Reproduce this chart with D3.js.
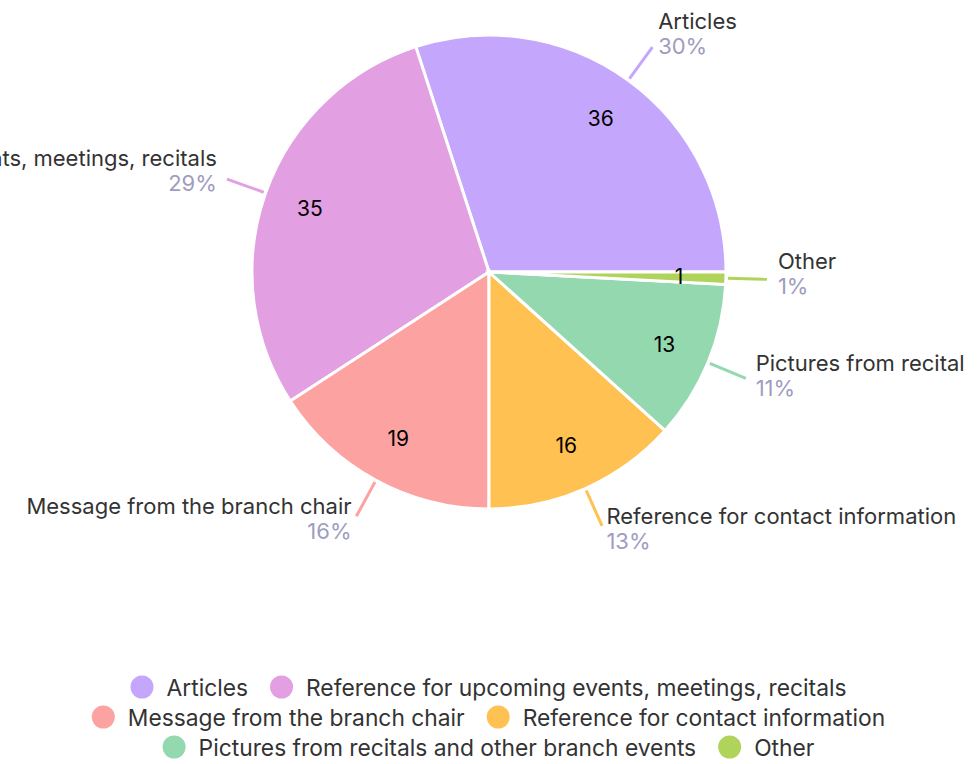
<!DOCTYPE html>
<html>
<head>
<meta charset="utf-8">
<script src="https://cdn.jsdelivr.net/npm/d3@7"></script>
<style>
  body { margin: 0; background: #fff; }
  svg { font-family: "Inter", "Open Sans", sans-serif; }
</style>
</head>
<body>
<svg id="chart" width="977" height="764"></svg>
<script>
// chart data
const categories = [
    "Articles",
    "Reference for upcoming events, meetings, recitals",
    "Message from the branch chair",
    "Reference for contact information",
    "Pictures from recitals and other branch events",
    "Other"
];
// slice labels as the chart shows them (long ones get cut)
const shortLabels = [
    "Articles",
    "Reference for upcoming events, meetings, recitals",
    "Message from the branch chair",
    "Reference for contact information",
    "Pictures from recital",
    "Other"
];
const values = [36, 35, 19, 16, 13, 1];
const colors = ["#c5a6fd", "#e29fe1", "#fca3a2", "#fec152", "#93d8ae", "#b0d35b"];
const legendRows = [[0, 1], [2, 3], [4, 5]];

const data = categories.map((c, i) => ({ name: c, label: shortLabels[i], value: values[i], color: colors[i] }));
const total = d3.sum(values);

const svg = d3.select("#chart");
const cx = 489, cy = 272, radius = 237;
const fontSize = "22px";

const g = svg.append("g")
    .attr("transform", `translate(${cx}, ${cy})`);

// counter-clockwise, starting at 3 o'clock
const pie = d3.pie()
    .value(d => d.value)
    .sort(null)
    .startAngle(Math.PI / 2)
    .endAngle(Math.PI / 2 - 2 * Math.PI);

const arc = d3.arc().innerRadius(0).outerRadius(radius);
const arcs = pie(data);

g.selectAll("path.slice")
    .data(arcs)
    .enter()
    .append("path")
    .attr("class", "slice")
    .attr("d", arc)
    .attr("fill", d => d.data.color)
    .style("stroke", "#fff")
    .style("stroke-width", "3px");

// value labels inside slices
const inner = d3.arc().innerRadius(190).outerRadius(190);
g.selectAll("text.value")
    .data(arcs)
    .enter()
    .append("text")
    .attr("class", "value")
    .attr("transform", d => `translate(${inner.centroid(d)})`)
    .attr("text-anchor", "middle")
    .attr("dominant-baseline", "central")
    .style("font-size", "21px")
    .style("fill", "#000")
    .text(d => d.data.value);

// outer labels with ticks
const mid = d => (d.startAngle + d.endAngle) / 2;
const pt = (a, r) => [Math.sin(a) * r, -Math.cos(a) * r];

const labels = g.selectAll("g.label")
    .data(arcs)
    .enter()
    .append("g")
    .attr("class", "label");

labels.append("line")
    .attr("x1", d => pt(mid(d), radius + 2)[0])
    .attr("y1", d => pt(mid(d), radius + 2)[1])
    .attr("x2", d => pt(mid(d), radius + 41)[0])
    .attr("y2", d => pt(mid(d), radius + 41)[1])
    .attr("stroke", d => d.data.color)
    .attr("stroke-width", 3);

labels.each(function(d) {
    const a = mid(d);
    const [x, y] = pt(a, radius + 41);
    const right = x >= 0;
    const s = Math.sin(a);
    const off = 3 + 8 * s * s;
    const tx = x + (right ? off : -off);
    const yc = y - 6 - 9 * Math.cos(a);
    const sel = d3.select(this);
    sel.append("text")
        .attr("x", tx)
        .attr("y", yc - 12.5)
        .attr("text-anchor", right ? "start" : "end")
        .attr("dominant-baseline", "central")
        .style("font-size", fontSize)
        .style("fill", "#333")
        .text(d.data.label);
    sel.append("text")
        .attr("x", tx)
        .attr("y", yc + 12.5)
        .attr("text-anchor", right ? "start" : "end")
        .attr("dominant-baseline", "central")
        .style("font-size", fontSize)
        .style("fill", "#9e9dbf")
        .text(Math.round(d.data.value / total * 100) + "%");
});

// legend, centered rows
const legend = svg.append("g").attr("class", "legend");
const rowY = [687, 717, 747];
const dotR = 11.5, dotGap = 13, itemGap = 22;

legendRows.forEach((row, ri) => {
    const rowG = legend.append("g");
    let x = 0;
    row.forEach(i => {
        const item = rowG.append("g").attr("transform", `translate(${x}, 0)`);
        item.append("circle")
            .attr("cx", dotR)
            .attr("cy", 0)
            .attr("r", dotR)
            .attr("fill", colors[i]);
        const t = item.append("text")
            .attr("x", dotR * 2 + dotGap)
            .attr("y", 0)
            .attr("dominant-baseline", "central")
            .style("font-size", "22.8px")
            .style("fill", "#333")
            .text(categories[i]);
        x += dotR * 2 + dotGap + t.node().getComputedTextLength() + itemGap;
    });
    const w = x - itemGap;
    rowG.attr("transform", `translate(${(977 - w) / 2}, ${rowY[ri]})`);
});
</script>
</body>
</html>
